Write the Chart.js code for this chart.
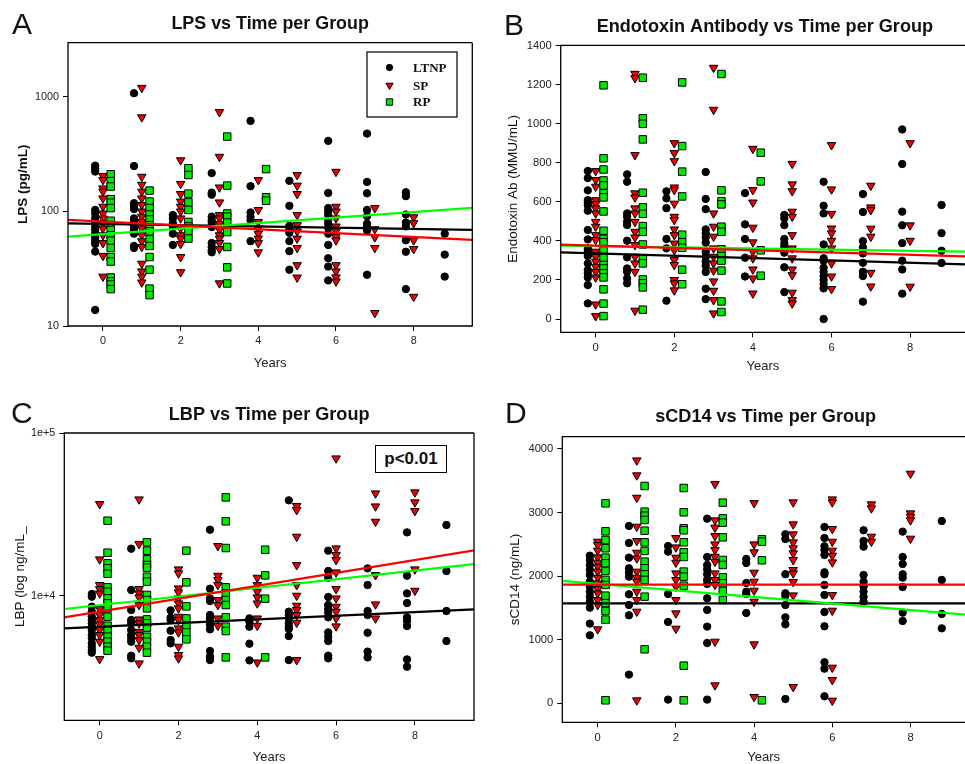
<!DOCTYPE html>
<html>
<head>
<meta charset="utf-8">
<title>LPS, Endotoxin Antibody, LBP and sCD14 vs Time per Group</title>
<script src="https://cdn.jsdelivr.net/npm/chart.js@4"></script>
<style>
  html, body { margin:0; padding:0; background:#fff; width:965px; height:764px; overflow:hidden; }
  canvas { position:absolute; display:block; }
  .letter { position:absolute; font:30px/30px "Liberation Sans", Arial, sans-serif; color:#111; }
  #pbox { position:absolute; left:375px; top:445px; width:70px; height:26px; border:1.3px solid #000; background:#fff;
          font:bold 17px/26px "Liberation Sans", Arial, sans-serif; color:#111; text-align:center; }
</style>
</head>
<body>
<canvas id="chartA" width="490" height="380" style="left:0;top:0"></canvas>
<canvas id="chartB" width="475" height="380" style="left:490px;top:0"></canvas>
<canvas id="chartC" width="490" height="379" style="left:0;top:385px"></canvas>
<canvas id="chartD" width="475" height="379" style="left:490px;top:385px"></canvas>
<div class="letter" style="left:12px;top:9px">A</div>
<div class="letter" style="left:504px;top:10px">B</div>
<div class="letter" style="left:11px;top:398px">C</div>
<div class="letter" style="left:505px;top:398px">D</div>
<div id="pbox">p&lt;0.01</div>
<script>
// ---- Data: each group array holds one list of readings per year index ----
const groupNames = ['LTNP', 'SP', 'RP'];
const xTicks = [0, 2, 4, 6, 8];

const lpsLTNP = [
  [251,238,223,103,96,87,80,74,69,64,59.5,55.6,52,44.6,13.8],
  [1076,249,118,112,105,87,81,74,69,64,50,48],
  [93,87,79,74,64,51],
  [216,146,140,90,84,80,76,73,53,49,46,44],
  [617,166,98,90,84,55],
  [185,112,75,70,65,55,45,31],
  [413,145,107,100,93,84,78,72,64,51,39,33,25],
  [478,181,144,103,91,78,73,68,28],
  [147,136,94,80,74,56,44.5,21],
  [64,42,27]
];
const lpsSP = [
  [204,188,159,149,130,110,96,87,79,71,62,53,41,27],
  [1199,664,201,171,149,130,114,100,90,81,71,62,55,49,35,30,27,24],
  [280,174,142,122,110,100,87,71,62,58,52,40,29.5],
  [737,300,162,120,93,87,78,69,62,58,53,47,23.6],
  [188,103,81,71,64,58,53,44],
  [208,168,142,93,76,67,58,48,34,26.5],
  [222,110,100,87,74,67,60,56,34,30,26.6,24.5],
  [107,70,59.5,48,13],
  [89,79,56,47,18]
];
const lpsRP = [
  [211,184,165,128,119,107,83,76,69,62,55.6,48,40,36.5,26.5,24.5,23,21],
  [152,122,107,94,85,76,67,57,50,40,31,21.2,18.6],
  [238,208,143,120,103,81,74,66,58],
  [450,168,96,90,80,66,49,32.5,23.5],
  [234,133,124]
];
const lpsTrendLTNP = [78.8, 68.9];
const lpsTrendSP = [84.3, 56.4];
const lpsTrendRP = [60.3, 107.3];
const lpsTicks = [10, 100, 1000];

const abLTNP = [
  [758,722,659,609,596,582,555,456,408,362,350,336,323,285,251,234,213,174,80],
  [741,703,541,524,498,481,401,316,259,242,208,183],
  [654,618,568,410,362,94],
  [753,615,563,459,439,418,391,345,319,294,273,241,155,102],
  [645,485,410,314,218],
  [533,516,481,410,387,370,340,265,138],
  [703,580,541,382,311,299,263,242,220,200,179,157,0],
  [640,548,399,367,336,288,242,220,89],
  [971,794,550,480,389,299,254,130],
  [584,440,350,287]
];
const abSP = [
  [758,712,678,609,589,567,541,498,473,430,405,345,319,294,268,242,213,75,15],
  [1256,1234,840,644,623,567,541,498,447,418,379,319,285,242,43],
  [901,850,809,674,661,591,524,507,459,430,387,353,302,277,200,183,147],
  [1287,1072,541,473,422,362,319,285,248,193,145,97,29],
  [872,661,597,468,393,345,311,254,208,131],
  [795,690,655,550,524,430,362,311,254,225,135,97,80],
  [891,664,539,464,439,401,362,285,218,154],
  [683,572,558,463,422,237,167],
  [901,480,401,166]
];
const abRP = [
  [1197,823,766,710,684,644,623,551,452,411,393,350,314,277,259,234,213,152,79,15],
  [1236,1028,1000,920,647,572,539,476,447,382,311,285,203,183,162,48],
  [1212,886,755,628,432,393,365,253,178],
  [1255,659,603,587,473,447,357,323,299,248,90,36],
  [852,705,352,222]
];
const abTrendLTNP = [341, 280];
const abTrendSP = [381, 321];
const abTrendRP = [376, 345];
const abTicks = [0, 200, 400, 600, 800, 1000, 1200, 1400];

const lbpLTNP = [
  [10240,9860,8558,7976,7430,7087,6760,6448,6150,5732,5466,5093,4858,4634,4464],
  [19450,10835,8165,7087,6760,6150,5732,5466,5213,4276,4120],
  [8126,7325,7087,6095,5340,5093],
  [25450,11040,9630,9272,7607,7250,6920,6600,6210,4570,4217,4020],
  [7250,6920,6448,5070,4004],
  [38550,7976,7607,7250,6760,6448,6240,5650,4020],
  [18910,14180,12900,9812,8760,8280,7860,7360,5950,5595,5262,4276,4120],
  [14720,11630,8050,7607,5920,4530,4176],
  [24500,13270,10330,9012,7360,6990,6510,4060,3660],
  [27200,14180,8050,5262]
];
const lbpSP = [
  [36600,16725,11630,10990,10330,8280,7607,7087,6668,6150,5732,5213,4080],
  [39100,20780,10990,10330,9766,8760,7150,6760,6000,5732,5340,4790,3837],
  [14520,13720,11090,10480,9630,8970,8360,7430,7087,6300,5950,4858,4320,4120],
  [20200,13270,12480,11630,9400,8760,7250,6540],
  [12900,11630,10570,9766,8970,7250,6540,3890],
  [35600,33630,23050,15430,11630,10000,8680,8165,7607,6825,4020],
  [69860,19540,17780,16570,13910,10990,9630,8558,7976,7250,6480],
  [42560,35400,28500,13400,8845,7250],
  [43200,37500,33150,14520,10730]
];
const lbpRP = [
  [28900,18380,15810,14720,13650,11250,10570,9630,8970,8360,7430,6540,6095,5595,5213,4858,4590],
  [21280,18910,16725,15430,14860,13080,12200,10100,9400,8360,7150,6760,6360,5595,5213,4858,4464],
  [18910,12080,8598,7250,6540,5950,5390],
  [40200,28640,19630,11250,10330,9400,8760,7360,6448,6060,4176],
  [19170,13330,9585,4176]
];
const lbpTrendLTNP = [6300, 8240];
const lbpTrendSP = [7360, 19000];
const lbpTrendRP = [8280, 15650];
const lbpTicks = [10000, 100000];

const cd14LTNP = [
  [2322,2254,2175,2097,2018,1913,1835,1756,1677,1599,1504,1253,1069],
  [2789,2521,2291,2123,2060,1992,1714,1546,1384,451],
  [2474,2385,1719,1279,58],
  [2904,2301,2175,2107,2029,1940,1877,1651,1468,1206,949,58],
  [2270,2207,1892,1756,1719,1421],
  [2658,2584,2029,1730,1688,1546,1352,1242,68],
  [2773,2600,2469,2411,2333,2060,2029,1861,1704,1436,1211,645,545,110],
  [2721,2553,2464,2018,1913,1835,1756,1677,1599],
  [2700,2301,2191,2029,1976,1829,1426,1295],
  [2867,1940,1405,1179]
];
const cd14SP = [
  [2542,2490,2401,2296,2212,2149,2071,1976,1887,1798,1730,1625,1546,1164],
  [3821,3586,3234,2778,2553,2369,2280,2071,1976,1913,1756,1625,1442,47],
  [2600,2453,2291,2212,2044,1940,1835,1625,1415,1174],
  [3449,2878,2763,2631,2500,2411,2306,2228,2044,1940,1861,970,283],
  [3150,2500,2375,2055,1913,1772,1599,928,100],
  [3161,2815,2658,2532,2438,2359,2254,2097,2044,1908,1698,257],
  [3208,3161,2742,2542,2401,2322,2217,1704,1457,561,367,42],
  [3130,3067,2621,2542],
  [3612,2988,2935,2878,2590]
];
const cd14RP = [
  [3145,2705,2568,2438,2291,2202,2081,1940,1861,1693,1573,1452,1316,47],
  [3418,3014,2951,2883,2715,2532,2396,2228,2123,2029,1940,1677,849],
  [3386,3004,2752,2721,2532,2375,2301,2071,1992,1850,592,47],
  [3156,2909,2841,2610,2254,2175,1981,1887,1767,1625],
  [2579,2542,2249,47]
];
const cd14TrendLTNP = [1573, 1573];
const cd14TrendSP = [1866, 1866];
const cd14TrendRP = [1924, 1394];
const cd14Ticks = [0, 1000, 2000, 3000, 4000];

// ---- Styling and layout ----
const SANS = '"Liberation Sans", Arial, sans-serif';
const GREEN_MARK = '#00e800', RED_MARK = '#f00000';
const groupOffset = [-0.2, 0, 0.2];
const groupStyle = [
  { pointStyle:'circle',   radius:3.7, fill:'#000000',  rotation:0 },
  { pointStyle:'triangle', radius:4.9, fill:RED_MARK,   rotation:180 },
  { pointStyle:'rect',     radius:5.3, fill:GREEN_MARK, rotation:0 }
];
const trendColor = ['#000000', '#ff0000', '#00ff00'];
const trendOrder = [2, 0, 1];

function points(perYear, offset) {
  const out = [];
  perYear.forEach((vals, yr) => vals.forEach(v => out.push({ x: yr + offset, y: v })));
  return out;
}

const framePlugin = {
  id: 'frame',
  afterLayout(chart, args, opts) {
    if (opts.titleShift) { chart.titleBlock.left += opts.titleShift; chart.titleBlock.right += opts.titleShift; }
  },
  afterDraw(chart, args, opts) {
    const a = chart.chartArea, c = chart.ctx;
    c.save();
    c.strokeStyle = '#000'; c.lineWidth = 1.3;
    c.beginPath();
    c.moveTo(a.right, a.top); c.lineTo(a.left, a.top); c.lineTo(a.left, a.bottom); c.lineTo(a.right, a.bottom);
    if (opts.closed) c.lineTo(a.right, a.top);
    c.stroke();
    c.restore();
  }
};

const keyPlugin = {
  id: 'key',
  afterDraw(chart, args, opts) {
    if (!opts.show) return;
    const c = chart.ctx;
    c.save();
    c.fillStyle = '#fff'; c.fillRect(367, 52, 90, 65);
    c.strokeStyle = '#000'; c.lineWidth = 1.2; c.strokeRect(367, 52, 90, 65);
    const rows = [67.5, 85.3, 102];
    groupNames.forEach((name, i) => {
      const s = groupStyle[i];
      c.fillStyle = s.fill; c.strokeStyle = '#000'; c.lineWidth = 1;
      Chart.helpers.drawPoint(c, { pointStyle:s.pointStyle, rotation:s.rotation, radius:s.radius * 0.85, borderWidth:1 }, 389.5, rows[i]);
      c.fillStyle = '#111';
      c.font = 'bold 13px "Liberation Serif", "Times New Roman", serif';
      c.textAlign = 'left'; c.textBaseline = 'middle';
      c.fillText(name, 413, rows[i] + 1);
    });
    c.restore();
  }
};

function makePanel(p) {
  const datasets = [];
  p.groups.forEach((g, i) => {
    const s = groupStyle[i];
    datasets.push({
      label: groupNames[i], data: points(g, groupOffset[i]), order: 5 - i,
      pointStyle: s.pointStyle, pointRadius: s.radius, pointRotation: s.rotation,
      pointBackgroundColor: s.fill, pointBorderColor: '#000', pointBorderWidth: 1, showLine: false
    });
  });
  p.trends.forEach((t, i) => {
    datasets.push({
      label: groupNames[i] + ' trend',
      data: [{ x: p.xMin, y: t[0] }, { x: p.xMax, y: t[1] }],
      showLine: true, borderColor: trendColor[i], borderWidth: 2.2, pointRadius: 0, order: trendOrder[i]
    });
  });
  const titleLH = 1.2 * p.titleSize, H = p.h, W = p.w;
  const axisSize = 13, axisLH = 1.2 * (p.yTitleSize || 13.5);
  new Chart(document.getElementById(p.id), {
    type: 'scatter',
    data: { datasets },
    plugins: [framePlugin, keyPlugin],
    options: {
      responsive: false, animation: false, events: [],
      layout: { autoPadding: false, padding: { left: 0, top: 0, bottom: 0, right: W - p.plot[1] } },
      plugins: {
        legend: { display: false }, tooltip: { enabled: false },
        frame: { closed: p.closed, titleShift: p.titleShift || 0 }, key: { show: !!p.key },
        title: {
          display: true, text: p.title, color: '#111', fullSize: false,
          font: { family: SANS, size: p.titleSize, weight: 'bold', lineHeight: 1.2 },
          padding: { top: p.titleY - titleLH / 2, bottom: p.plot[2] - p.titleY - titleLH / 2 }
        }
      },
      scales: {
        x: {
          type: 'linear', min: p.xMin, max: p.xMax,
          afterFit(s) { s.height = H - p.plot[3]; },
          afterBuildTicks(s) { s.ticks = xTicks.map(v => ({ value: v })); },
          border: { display: false },
          grid: { drawOnChartArea: false, drawTicks: true, tickLength: 5, color: '#000', tickColor: '#000', lineWidth: 1 },
          ticks: { color: '#222', padding: 4, autoSkip: false, maxRotation: 0, font: { family: SANS, size: p.tickSize } },
          title: {
            display: true, text: 'Years', color: '#222',
            font: { family: SANS, size: axisSize, lineHeight: 1.2 },
            padding: { top: 0, bottom: p.xTitleFromBottom - 1.2 * axisSize / 2 }
          }
        },
        y: {
          type: p.log ? 'logarithmic' : 'linear', min: p.yMin, max: p.yMax,
          afterFit(s) { s.width = p.plot[0]; },
          afterBuildTicks(s) { s.ticks = p.yTicks.map(v => ({ value: v })); },
          border: { display: false },
          grid: { drawOnChartArea: false, drawTicks: true, tickLength: 5, color: '#000', tickColor: '#000', lineWidth: 1 },
          ticks: { color: '#222', padding: 4, autoSkip: false, font: { family: SANS, size: p.tickSize }, callback: p.tickFmt || (v => String(v)) },
          title: {
            display: true, text: p.yTitle, color: '#111',
            font: { family: SANS, size: p.yTitleSize || 13.5, weight: p.yTitleWeight || 'normal', lineHeight: 1.2 },
            padding: { top: p.yTitleX - axisLH / 2, bottom: 0 }
          }
        }
      }
    }
  });
}

makePanel({
  id: 'chartA', w: 490, h: 380, plot: [68, 472.3, 42.7, 326], closed: true, key: true,
  xMin: -0.9, xMax: 9.51, yMin: 10, yMax: 2970, log: true, yTicks: lpsTicks,
  title: 'LPS vs Time per Group', titleSize: 17.9, titleY: 24,
  yTitle: 'LPS (pg/mL)', yTitleSize: 13.5, yTitleWeight: 'bold', yTitleX: 23, tickSize: 10.8, xTitleFromBottom: 17,
  groups: [lpsLTNP, lpsSP, lpsRP], trends: [lpsTrendLTNP, lpsTrendSP, lpsTrendRP]
});
makePanel({
  id: 'chartB', w: 475, h: 380, plot: [70.7, 475, 45.3, 332.3], closed: false, titleShift: 2,
  xMin: -0.89, xMax: 9.397, yMin: -68, yMax: 1402, yTicks: abTicks,
  title: 'Endotoxin Antibody vs Time per Group', titleSize: 18.1, titleY: 27,
  yTitle: 'Endotoxin Ab (MMU/mL)', yTitleX: 23, tickSize: 11.2, xTitleFromBottom: 14,
  groups: [abLTNP, abSP, abRP], trends: [abTrendLTNP, abTrendSP, abTrendRP]
});
makePanel({
  id: 'chartC', w: 490, h: 379, plot: [64.3, 474, 48, 335.3], closed: true,
  xMin: -0.898, xMax: 9.5, yMin: 1714, yMax: 100000, log: true, yTicks: lbpTicks,
  tickFmt: v => '1e+' + Math.round(Math.log10(v)),
  title: 'LBP vs Time per Group', titleSize: 18.1, titleY: 30,
  yTitle: 'LBP (log ng/mL_', yTitleX: 20, tickSize: 10.8, xTitleFromBottom: 7,
  groups: [lbpLTNP, lbpSP, lbpRP], trends: [lbpTrendLTNP, lbpTrendSP, lbpTrendRP]
});
makePanel({
  id: 'chartD', w: 475, h: 379, plot: [72.3, 475, 51.7, 337.3], closed: false, titleShift: 2,
  xMin: -0.905, xMax: 9.394, yMin: -299, yMax: 4193, yTicks: cd14Ticks,
  title: 'sCD14 vs Time per Group', titleSize: 18.1, titleY: 32,
  yTitle: 'sCD14 (ng/mL)', yTitleX: 25, tickSize: 11.2, xTitleFromBottom: 7,
  groups: [cd14LTNP, cd14SP, cd14RP], trends: [cd14TrendLTNP, cd14TrendSP, cd14TrendRP]
});
</script>
</body>
</html>
